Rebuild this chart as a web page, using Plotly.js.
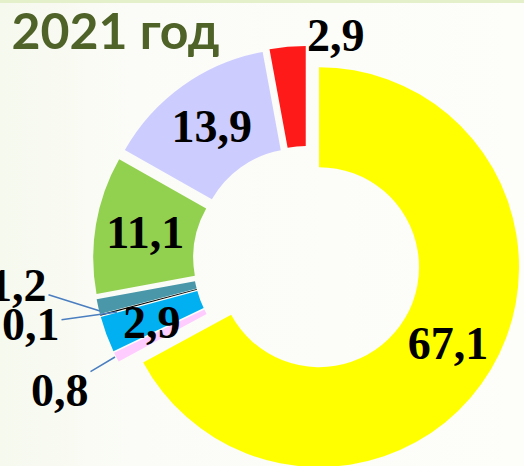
<!DOCTYPE html>
<html>
<head>
<meta charset="utf-8">
<script src="https://cdn.plot.ly/plotly-3.0.1.min.js"></script>
<style>
  html, body { margin:0; padding:0; width:524px; height:466px; overflow:hidden;
    background: linear-gradient(90deg, #f6f9ee 0%, #fbfcf7 25%, #fdfdf9 100%); }
  #topline { position:absolute; left:0; top:0; width:524px; height:3px; background:#e3f0c9; z-index:5; }
  #chart { position:absolute; left:0; top:0; width:524px; height:500px; }
</style>
</head>
<body>
<div id="topline"></div>
<div id="chart"></div>
<script>
// ---- data ----
const categories = ['A', 'B', 'C', 'D', 'E', 'F', 'G', 'H'];
const values = [67.1, 0.8, 2.9, 0.1, 1.2, 11.1, 13.9, 2.9];
const colors = ['#ffff00', '#ffccff', '#00b0f0', '#000000', '#4a97a9', '#92d050', '#ccccff', '#ff1a1a'];
const titleText = '2021 год';

const W = 524, H = 500;
function PX(x) { return x / W; }
function PY(y) { return 1 - y / H; }
function fmt(v) { return v.toFixed(1).replace('.', ','); }

// inside labels for the large slices, outer labels drawn as annotations
const insideIdx = [0, 5, 6];
const texttemplate = values.map((v, i) => insideIdx.includes(i) ? '%{value:.1f}' : '');

const labelFont = { family: 'Liberation Serif, Times New Roman, serif', size: 46, color: '#000000', weight: 700 };

const trace = {
  type: 'pie',
  labels: categories,
  values: values,
  sort: false,
  direction: 'clockwise',
  rotation: 0,
  hole: 0.5,
  pull: values.map(() => 0.07),
  marker: { colors: colors, line: { width: 0 } },
  texttemplate: texttemplate,
  textposition: 'inside',
  insidetextorientation: 'horizontal',
  insidetextfont: labelFont,
  textfont: labelFont,
  showlegend: false,
  hoverinfo: 'none',
  domain: { x: [0.1775, 0.9943], y: [0.052, 0.908] }
};

const lineCol = '#4a7ec0';
const annotations = [
  { x: PX(336), y: PY(35), text: fmt(values[7]), showarrow: false },
  { x: PX(152), y: PY(322), text: fmt(values[2]), showarrow: false },
  { x: PX(100), y: PY(311), ax: -82, ay: -26, text: fmt(values[4]), showarrow: true },
  { x: PX(117), y: PY(312), ax: -86, ay: 12, text: fmt(values[3]), showarrow: true },
  { x: PX(115), y: PY(357), ax: -55, ay: 33, text: fmt(values[1]), showarrow: true }
].map(a => Object.assign({
  xref: 'paper', yref: 'paper', xanchor: 'center', yanchor: 'middle', font: labelFont,
  arrowhead: 0, arrowwidth: 1.5, arrowcolor: lineCol, standoff: 0, startstandoff: 0
}, a));

const layout = {
  width: W, height: H,
  margin: { l: 0, r: 0, t: 0, b: 0 },
  paper_bgcolor: 'rgba(0,0,0,0)',
  plot_bgcolor: 'rgba(0,0,0,0)',
  separators: ',.',
  title: {
    text: titleText,
    x: 0.022, xanchor: 'left',
    y: 0.972, yanchor: 'top', yref: 'container',
    font: { family: 'Lato, sans-serif', size: 50, color: '#4f6228', weight: 700 }
  },
  annotations: annotations,
  showlegend: false
};

Plotly.newPlot('chart', [trace], layout, { displayModeBar: false, staticPlot: true });
</script>
</body>
</html>
